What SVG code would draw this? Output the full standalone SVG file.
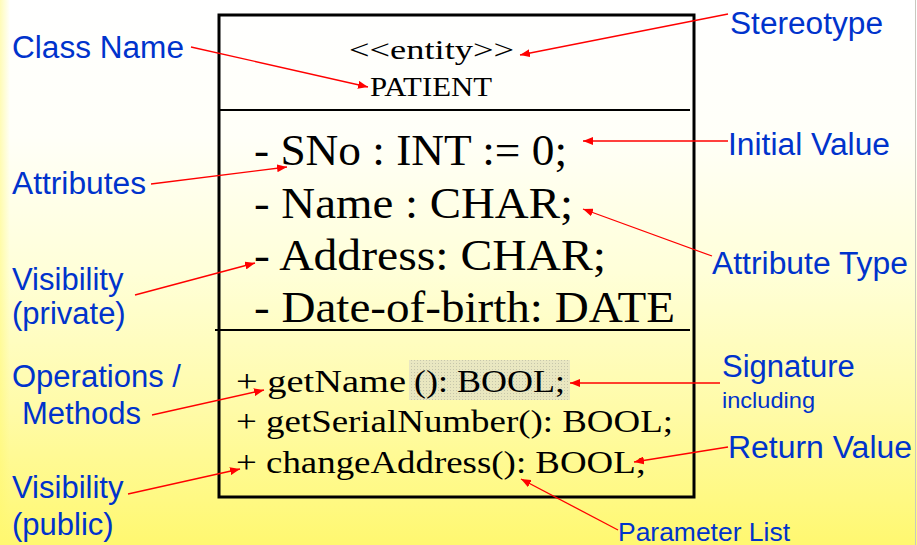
<svg xmlns="http://www.w3.org/2000/svg" width="917" height="545" viewBox="0 0 917 545">
  <defs>
    <linearGradient id="bg" x1="0" y1="0" x2="0" y2="1">
      <stop offset="0" stop-color="#FFFFFF"/>
      <stop offset="0.25" stop-color="#FFFFF8"/>
      <stop offset="0.5" stop-color="#FFFFD8"/>
      <stop offset="0.75" stop-color="#FFFBA8"/>
      <stop offset="1" stop-color="#FFF870"/>
    </linearGradient>
    <linearGradient id="edge" x1="0" y1="0" x2="1" y2="0">
      <stop offset="0" stop-color="#FFF870" stop-opacity="0.5"/>
      <stop offset="1" stop-color="#FFF870" stop-opacity="0"/>
    </linearGradient>
    <pattern id="dots" width="3" height="3" patternUnits="userSpaceOnUse">
      <rect width="3" height="3" fill="#E4E2C4"/>
      <rect width="1" height="1" fill="#B8B8A8"/>
    </pattern>
    <marker id="arrow" viewBox="0 0 10 8" refX="10" refY="4" markerWidth="10" markerHeight="8" markerUnits="userSpaceOnUse" orient="auto">
      <path d="M0,0 L10,4 L0,8 z" fill="#FF0000"/>
    </marker>
  </defs>
  <style>
    .label { font-family: "Liberation Sans", Arial, sans-serif; font-size: 31px; fill: #0033CC; }
    .small { font-size: 25px; }
    .tiny { font-size: 22px; }
    .uml { font-family: "Liberation Serif", "Times New Roman", serif; fill: #000000; }
    .attr { font-size: 44px; }
    .op { font-size: 31px; }
    .head { font-size: 28px; }
    .conn line { stroke: #FF0000; stroke-width: 1.3; marker-end: url(#arrow); }
  </style>

  <!-- background -->
  <rect x="0" y="0" width="917" height="545" fill="url(#bg)"/>
  <rect x="0" y="0" width="10" height="545" fill="url(#edge)"/>
  <line x1="915.5" y1="0" x2="915.5" y2="545" stroke="#C8C8C0" stroke-width="1"/>

  <!-- class box -->
  <g id="class-patient">
    <rect x="219" y="15" width="475" height="482" fill="none" stroke="#000" stroke-width="3"/>
    <line x1="219" y1="110" x2="690" y2="110" stroke="#000" stroke-width="2"/>
    <line x1="215" y1="330" x2="690" y2="330" stroke="#000" stroke-width="2"/>
    <text class="uml head" x="349" y="59" textLength="165" lengthAdjust="spacingAndGlyphs">&lt;&lt;entity&gt;&gt;</text>
    <text class="uml head" x="370" y="96" textLength="122" lengthAdjust="spacingAndGlyphs">PATIENT</text>
    <text class="uml attr" x="254" y="165" textLength="313" lengthAdjust="spacingAndGlyphs">- SNo : INT := 0;</text>
    <text class="uml attr" x="254" y="218" textLength="319" lengthAdjust="spacingAndGlyphs">- Name : CHAR;</text>
    <text class="uml attr" x="254" y="270" textLength="352" lengthAdjust="spacingAndGlyphs">- Address: CHAR;</text>
    <text class="uml attr" x="254" y="322" textLength="421" lengthAdjust="spacingAndGlyphs">- Date-of-birth: DATE</text>
    <rect x="409" y="360" width="161" height="40" fill="url(#dots)" opacity="0.8"/>
    <text class="uml op" x="236" y="392" textLength="170" lengthAdjust="spacingAndGlyphs">+ getName</text>
    <text class="uml op" x="414" y="392" textLength="151" lengthAdjust="spacingAndGlyphs" fill="#333">(): BOOL;</text>
    <text class="uml op" x="236" y="432" textLength="437" lengthAdjust="spacingAndGlyphs">+ getSerialNumber(): BOOL;</text>
    <text class="uml op" x="236" y="473" textLength="410" lengthAdjust="spacingAndGlyphs">+ changeAddress(): BOOL;</text>
  </g>

  <!-- callout labels -->
  <g id="lbl-classname"><text class="label" x="12" y="58" textLength="172" lengthAdjust="spacingAndGlyphs">Class Name</text></g>
  <g id="lbl-stereotype"><text class="label" x="730" y="34" textLength="153" lengthAdjust="spacingAndGlyphs">Stereotype</text></g>
  <g id="lbl-initial"><text class="label" x="728" y="155" textLength="162" lengthAdjust="spacingAndGlyphs">Initial Value</text></g>
  <g id="lbl-attributes"><text class="label" x="12" y="194" textLength="134" lengthAdjust="spacingAndGlyphs">Attributes</text></g>
  <g id="lbl-attrtype"><text class="label" x="712" y="274" textLength="196" lengthAdjust="spacingAndGlyphs">Attribute Type</text></g>
  <g id="lbl-vis-private">
    <text class="label" x="12" y="290">Visibility</text>
    <text class="label" x="12" y="324">(private)</text>
  </g>
  <g id="lbl-operations">
    <text class="label" x="12" y="387">Operations /</text>
    <text class="label" x="22" y="424">Methods</text>
  </g>
  <g id="lbl-signature">
    <text class="label" x="722" y="377">Signature</text>
    <text class="label tiny" x="722" y="408" textLength="93" lengthAdjust="spacingAndGlyphs">including</text>
  </g>
  <g id="lbl-return"><text class="label" x="728" y="458" textLength="184" lengthAdjust="spacingAndGlyphs">Return Value</text></g>
  <g id="lbl-vis-public">
    <text class="label" x="12" y="498">Visibility</text>
    <text class="label" x="12" y="535">(public)</text>
  </g>
  <g id="lbl-params"><text class="label small" x="618" y="541" textLength="172" lengthAdjust="spacingAndGlyphs">Parameter List</text></g>

  <!-- connectors -->
  <g id="connectors" class="conn">
    <line x1="191" y1="47" x2="368" y2="87"/>
    <line x1="728" y1="14" x2="520" y2="55"/>
    <line x1="728" y1="141" x2="583" y2="141"/>
    <line x1="151" y1="184" x2="287" y2="167"/>
    <line x1="712" y1="256" x2="583" y2="209"/>
    <line x1="135" y1="295" x2="255" y2="263"/>
    <line x1="152" y1="415" x2="264" y2="390"/>
    <line x1="720" y1="383" x2="570" y2="383"/>
    <line x1="728" y1="447" x2="634" y2="462"/>
    <line x1="128" y1="494" x2="240" y2="469"/>
    <line x1="618" y1="530" x2="521" y2="479"/>
  </g>
</svg>
